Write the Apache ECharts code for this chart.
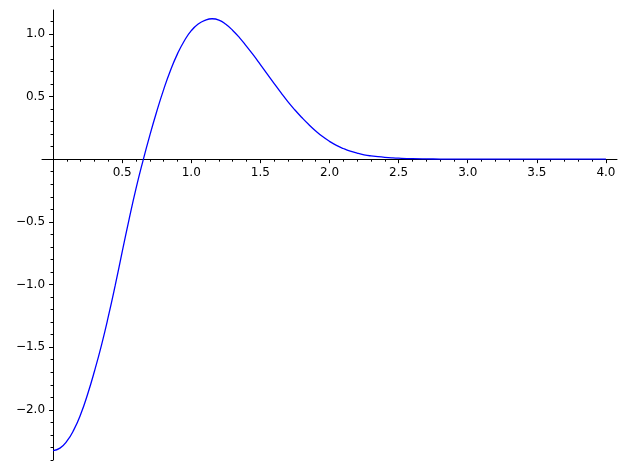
<!DOCTYPE html>
<html>
<head>
<meta charset="utf-8">
<script src="https://cdn.jsdelivr.net/npm/echarts@6/dist/echarts.min.js"></script>
<style>
  html, body { margin: 0; padding: 0; background: #fff; }
  #main { width: 626px; height: 470px; }
</style>
</head>
<body>
<div id="main"></div>
<script>
// curve samples
const xValues = [0, 0.05, 0.1, 0.15, 0.2, 0.25, 0.3, 0.35, 0.4, 0.45, 0.5, 0.55, 0.6, 0.65, 0.7, 0.75, 0.8, 0.85, 0.9, 0.95,
  1.0, 1.05, 1.1, 1.15, 1.2, 1.25, 1.3, 1.35, 1.4, 1.45, 1.5, 1.55, 1.6, 1.65, 1.7, 1.75, 1.8, 1.85, 1.9, 1.95,
  2.0, 2.05, 2.1, 2.15, 2.2, 2.25, 2.3, 2.35, 2.4, 2.45, 2.5, 2.6, 2.7, 2.8, 2.9, 3.0, 3.5, 4.0];
const yValues = [-2.325, -2.305, -2.25, -2.16, -2.035, -1.875, -1.69, -1.485, -1.255, -1.005, -0.74, -0.48, -0.235, -0.015, 0.19, 0.38, 0.555, 0.71, 0.84, 0.945,
  1.025, 1.078, 1.108, 1.12, 1.11, 1.076, 1.027, 0.968, 0.90, 0.83, 0.755, 0.679, 0.603, 0.528, 0.457, 0.392, 0.332, 0.276, 0.225, 0.18,
  0.142, 0.11, 0.085, 0.064, 0.048, 0.035, 0.026, 0.02, 0.015, 0.011, 0.008, 0.004, 0.002, 0.001, 0, 0, 0, 0];

// tick labels
const xTicks = [0.5, 1.0, 1.5, 2.0, 2.5, 3.0, 3.5, 4.0];
const yTicks = [-2.0, -1.5, -1.0, -0.5, 0.5, 1.0];

const xRange = [-0.08, 4.08];
const yRange = [-2.4, 1.19];

// minor ticks every 0.1
const xMinor = [];
for (let i = 1; i <= 40; i++) xMinor.push(i / 10);
const yMinor = [];
for (let i = -24; i <= 11; i++) if (i !== 0) yMinor.push(i / 10);

const fmt = v => v.toFixed(1).replace('-', '\u2212');

const labelStyle = {
  color: '#000',
  fontFamily: 'DejaVu Sans',
  fontSize: 12,
};

// plot box
const gLeft = 42, gRight = 9, gTop = 10, gBottom = 10;
const plotW = 626 - gLeft - gRight;
const plotH = 470 - gTop - gBottom;
// move the axes onto the zero lines
const xOffset = -(plotH * (0 - yRange[0]) / (yRange[1] - yRange[0]));
const yOffset = -(plotW * (0 - xRange[0]) / (xRange[1] - xRange[0]));

const tickLine = { color: '#000', width: 1 };

const chart = echarts.init(document.getElementById('main'));

chart.setOption({
  animation: false,
  backgroundColor: '#fff',
  grid: { left: gLeft, right: gRight, top: gTop, bottom: gBottom, containLabel: false, outerBoundsMode: 'none' },
  xAxis: [{
    type: 'value',
    min: xRange[0],
    max: xRange[1],
    position: 'bottom',
    offset: xOffset,
    axisLine: { show: true, onZero: false, lineStyle: tickLine },
    axisTick: { show: true, customValues: xTicks, length: 4, lineStyle: tickLine },
    axisLabel: Object.assign({ customValues: xTicks, margin: 8, formatter: fmt }, labelStyle),
    splitLine: { show: false },
  }, {
    type: 'value',
    min: xRange[0],
    max: xRange[1],
    position: 'bottom',
    offset: xOffset,
    axisLine: { show: false, onZero: false },
    axisTick: { show: true, customValues: xMinor, length: 2.5, lineStyle: tickLine },
    axisLabel: { show: false },
    splitLine: { show: false },
  }],
  yAxis: [{
    type: 'value',
    min: yRange[0],
    max: yRange[1],
    position: 'left',
    offset: yOffset,
    axisLine: { show: true, onZero: false, lineStyle: tickLine },
    axisTick: { show: true, customValues: yTicks, length: 4, lineStyle: tickLine },
    axisLabel: Object.assign({ customValues: yTicks, margin: 8, formatter: fmt }, labelStyle),
    splitLine: { show: false },
  }, {
    type: 'value',
    min: yRange[0],
    max: yRange[1],
    position: 'left',
    offset: yOffset,
    axisLine: { show: false, onZero: false },
    axisTick: { show: true, customValues: yMinor, length: 2.5, lineStyle: tickLine },
    axisLabel: { show: false },
    splitLine: { show: false },
  }],
  series: [{
    type: 'line',
    xAxisIndex: 0,
    yAxisIndex: 0,
    data: xValues.map((x, i) => [x, yValues[i]]),
    showSymbol: false,
    symbol: 'none',
    smooth: true,
    lineStyle: { color: '#0000ff', width: 1.3 },
  }],
});
</script>
</body>
</html>
